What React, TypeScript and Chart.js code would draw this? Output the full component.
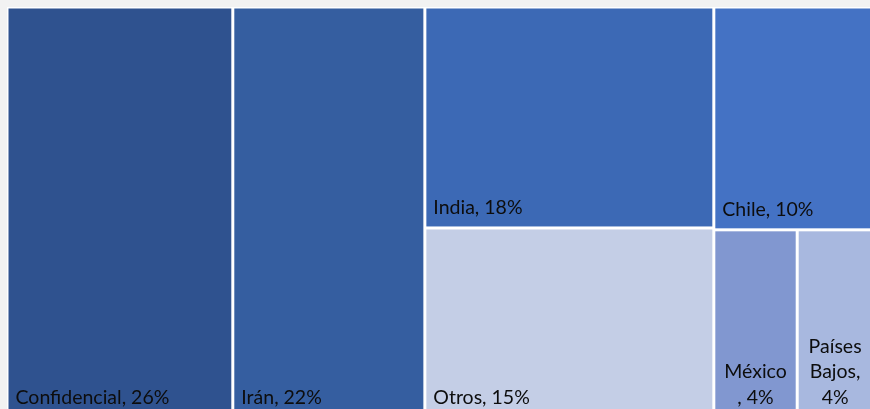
import React, { useEffect, useRef } from "react";
import { Chart, registerables } from "chart.js";
Chart.register(...registerables);

const categories = ["Confidencial", "Irán", "India", "Otros", "Chile", "México", "Países Bajos"];
const values = [26.1, 22.2, 18.0, 15.4, 10.0, 4.4, 4.0];
const colors = ["#2F528F", "#355EA0", "#3C69B5", "#C4CEE6", "#4472C4", "#8197D0", "#A8B8DF"];
// treemap structure: columns -> rows -> item indices
const layout = [[[0]], [[1]], [[2], [3]], [[4], [5, 6]]];
// forced line breaks for narrow cells ({p} = percentage)
const wrapped: (string[] | null)[] = [null, null, null, null, null, ["México", ", {p}"], ["Países", "Bajos,", "{p}"]];

const FONT = "19.5px Lato";

type R = { i: number; x0: number; x1: number; y0: number; y1: number };

function computeRects(): R[] {
  const total = values.reduce((a, b) => a + b, 0);
  const out: R[] = [];
  let x = 0;
  for (const col of layout) {
    const colSum = col.flat().reduce((a, i) => a + values[i], 0);
    const w = colSum / total;
    let y = 0;
    for (const row of col) {
      const rowSum = row.reduce((a, i) => a + values[i], 0);
      const h = rowSum / colSum;
      let xx = x;
      for (const i of row) {
        const iw = (values[i] / rowSum) * w;
        out.push({ i, x0: xx, x1: xx + iw, y0: y, y1: y + h });
        xx += iw;
      }
      y += h;
    }
    x += w;
  }
  return out;
}

const treemapPlugin = {
  id: "treemapDraw",
  beforeDatasetsDraw(chart: any) {
    const { ctx, scales } = chart;
    const xs = scales.x;
    const ys = scales.y;
    ctx.save();
    ctx.fillStyle = "#FFFFFF";
    ctx.fillRect(0, 0, chart.width, chart.height);
    const rects = computeRects();
    for (const r of rects) {
      const l = xs.getPixelForValue(r.x0) + 1.5;
      const rr = xs.getPixelForValue(r.x1) - 1.5;
      const t = ys.getPixelForValue(r.y0) + 1.5;
      const b = ys.getPixelForValue(r.y1) - 1.5;
      ctx.fillStyle = colors[r.i];
      ctx.fillRect(l, t, rr - l, b - t);
      const pct = Math.round(values[r.i]) + "%";
      const label = categories[r.i] + ", " + pct;
      ctx.font = FONT;
      ctx.fillStyle = "#0D0D0D";
      ctx.textBaseline = "alphabetic";
      const lines = wrapped[r.i];
      if (!lines) {
        ctx.textAlign = "left";
        ctx.fillText(label, l + 7, b - 12);
      } else {
        ctx.textAlign = "center";
        const cx = (l + rr) / 2;
        const lh = 25.5;
        lines.forEach((ln, k) => {
          const txt = ln.replace("{p}", pct);
          ctx.fillText(txt, cx, b - 12 - (lines.length - 1 - k) * lh);
        });
      }
    }
    ctx.restore();
  },
};

export default function App() {
  const ref = useRef<HTMLCanvasElement>(null);
  useEffect(() => {
    document.body.style.margin = "0";
    document.body.style.background = "#F2F2F2";
    document.body.style.overflow = "hidden";
    const canvas = ref.current!;
    const chart = new Chart(canvas, {
      type: "scatter",
      data: {
        datasets: [
          {
            data: computeRects().map((r) => ({ x: (r.x0 + r.x1) / 2, y: (r.y0 + r.y1) / 2 })),
            pointRadius: 0,
          },
        ],
      },
      options: {
        responsive: true,
        maintainAspectRatio: false,
        animation: false,
        layout: { padding: 0 },
        plugins: { legend: { display: false }, tooltip: { enabled: false } },
        scales: {
          x: { type: "linear", min: 0, max: 1, display: false },
          y: { type: "linear", min: 0, max: 1, reverse: true, display: false },
        },
      },
      plugins: [treemapPlugin],
    });
    return () => chart.destroy();
  }, []);
  return (
    <div style={{ position: "absolute", left: 7, top: 7, width: 866, height: 410 }}>
      <canvas ref={ref} />
    </div>
  );
}
